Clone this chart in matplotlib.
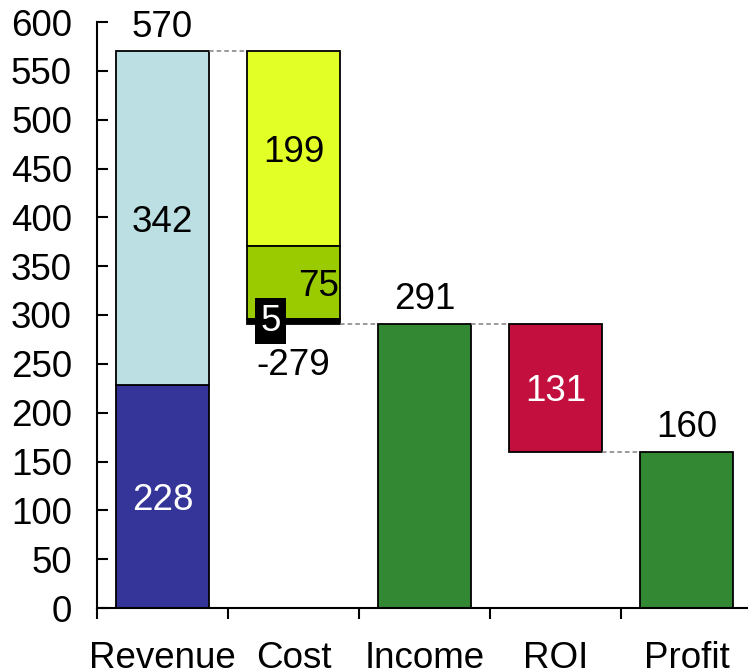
import matplotlib
matplotlib.use("Agg")
import matplotlib.pyplot as plt
import numpy as np

plt.rcParams['font.family'] = ['Liberation Sans', 'DejaVu Sans']

# ---- data ----
categories = ['Revenue', 'Cost', 'Income', 'ROI', 'Profit']
revenue_parts = [228, 342]          # bottom -> top
revenue_total = 570
cost_parts = [199, 75, 5]           # top -> down from revenue total
cost_total = -279
income_total = 291
roi_value = 131
profit_total = 160
y_ticks = list(range(0, 601, 50))

# ---- colors ----
c_rev_dark = '#353599'
c_rev_light = '#BBDFE3'
c_cost = ['#E2FF26', '#9ACA00', '#000000']
c_total = '#338833'
c_roi = '#C20F3D'

fig = plt.figure(figsize=(7.48, 6.72), dpi=100)
ax = fig.add_axes([97 / 748, 64 / 672, 655 / 748, 586 / 672])

x = np.arange(len(categories))
w = 0.71
ek = dict(edgecolor='black', linewidth=1.3)
FS = 26.5
MID = -9.6   # baseline shift (pt) to vertically centre digits

def label(xv, yv, s, color='black', dx=0, dy=0):
    ax.annotate(s, (xv, yv), xytext=(dx, dy), textcoords='offset points',
                ha='center', va='baseline', fontsize=FS, color=color,
                annotation_clip=False)

# Revenue
ax.bar(x[0], revenue_parts[0], w, bottom=0, color=c_rev_dark, **ek)
ax.bar(x[0], revenue_parts[1], w, bottom=revenue_parts[0], color=c_rev_light, **ek)
label(x[0], revenue_parts[0] / 2, str(revenue_parts[0]), 'white', dy=MID)
label(x[0], revenue_parts[0] + revenue_parts[1] / 2, str(revenue_parts[1]), dy=MID)
label(x[0], revenue_total, str(revenue_total), dy=10.3)

# Cost
top = revenue_total
cost_mid = []
for v, c in zip(cost_parts, c_cost):
    ax.bar(x[1], -v, w, bottom=top, color=c, **ek)
    cost_mid.append(top - v / 2)
    top -= v
cost_bottom = revenue_total + cost_total
label(x[1], cost_mid[0], str(cost_parts[0]), dy=MID)
label(x[1], cost_mid[1], str(cost_parts[1]), dx=18, dy=MID)
ax.annotate(str(cost_parts[2]), (x[1], cost_mid[2]), xytext=(-16.5, 0),
            textcoords='offset points', ha='center', va='center', fontsize=FS,
            color='white',
            bbox=dict(boxstyle='square,pad=0.15', fc='black', ec='none'))
label(x[1], cost_bottom, str(cost_total), dy=-36.7)

# Income
ax.bar(x[2], income_total, w, color=c_total, **ek)
label(x[2], income_total, str(income_total), dy=10.5)

# ROI
ax.bar(x[3], -roi_value, w, bottom=income_total, color=c_roi, **ek)
label(x[3], income_total - roi_value / 2, str(roi_value), 'white', dy=MID)

# Profit
ax.bar(x[4], profit_total, w, color=c_total, **ek)
label(x[4], profit_total, str(profit_total), dy=10.5)

# connectors
conn = [(0, revenue_total), (1, cost_bottom), (2, income_total), (3, profit_total)]
for i, yv in conn:
    ax.plot([x[i] + w / 2, x[i + 1] - w / 2], [yv, yv], color='#808080',
            linestyle=(0, (3, 2)), linewidth=1.1, zorder=1)

ax.set_xlim(-0.5, len(categories) - 0.5)
ax.set_ylim(0, 600)
ax.set_yticks(y_ticks)
ax.tick_params(axis='y', direction='in', length=8, width=1.5, labelsize=FS, pad=18)
ax.set_xticks(x)
ax.set_xticklabels(categories)
ax.tick_params(axis='x', which='major', length=0, labelsize=FS, pad=24)
ax.set_xticks(np.arange(-0.5, len(categories) + 0.5, 1), minor=True)
ax.tick_params(axis='x', which='minor', direction='out', length=8, width=1.5)
for s in ['top', 'right']:
    ax.spines[s].set_visible(False)
for s in ['left', 'bottom']:
    ax.spines[s].set_linewidth(1.5)

fig.savefig('out.png', dpi=100)
